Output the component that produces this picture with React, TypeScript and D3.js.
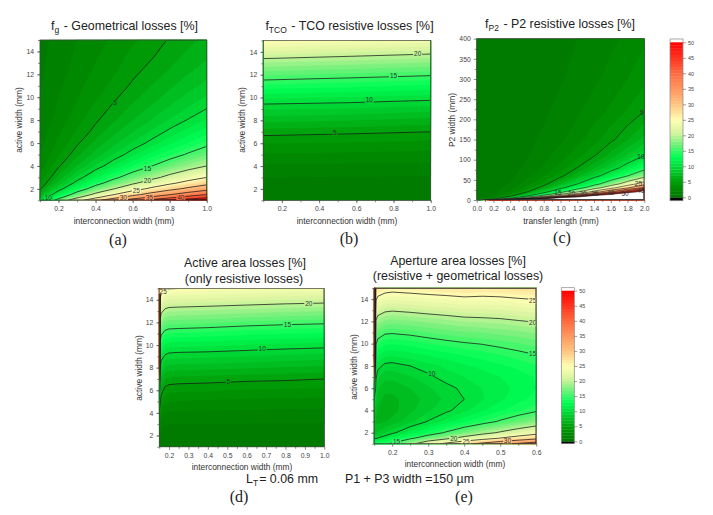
import React, { useRef, useEffect } from "react";
import * as d3 from "d3";

// colour bar stops
const colorLevels = [0, 3, 5, 10, 13, 17, 21, 25, 30, 40, 50];
const colorValues = ["#007800", "#008c00", "#009f08", "#00dc38", "#00ff55", "#70f078", "#d8f4a0", "#ffffb4", "#ffc480", "#ff6a40", "#ff0000"];
const barTicks = [0, 5, 10, 15, 20, 25, 30, 35, 40, 45, 50];

// (a) geometrical losses on a non-uniform grid
const aX = [0.1, 0.2, 0.3, 0.4, 0.5, 0.6, 0.7, 0.8, 0.9, 1.0];
const aY = [1, 1.25, 1.5, 2, 2.5, 3, 4, 5, 6, 7, 8, 9, 10, 11, 12.5, 13.5, 15];
const aZ = [
  [9.1, 16.7, 23.1, 28.6, 33.3, 37.5, 41.2, 44.4, 47.4, 50],
  [7.4, 13.8, 19.4, 24.2, 28.6, 32.4, 35.9, 39, 41.9, 44.4],
  [6.3, 11.8, 16.7, 21.1, 25, 28.6, 31.8, 34.8, 37.5, 40],
  [4.8, 9.1, 13, 16.7, 20, 23.1, 25.9, 28.6, 31, 33.3],
  [3.8, 7.4, 10.7, 13.8, 16.7, 19.4, 21.9, 24.2, 26.5, 28.6],
  [3.2, 6.3, 9.1, 11.8, 14.3, 16.7, 18.9, 21.1, 23.1, 25],
  [2.4, 4.8, 7, 9.1, 11.1, 13, 14.9, 16.7, 18.4, 20],
  [2, 3.8, 5.7, 7.4, 9.1, 10.7, 12.3, 13.8, 15.3, 16.7],
  [1.6, 3.2, 4.8, 6.3, 7.7, 9.1, 10.4, 11.8, 13, 14.3],
  [1.4, 2.8, 4.1, 5.4, 6.7, 7.9, 9.1, 10.3, 11.4, 12.5],
  [1.2, 2.4, 3.6, 4.8, 5.9, 7, 8, 9.1, 10.1, 11.1],
  [1.1, 2.2, 3.2, 4.3, 5.3, 6.3, 7.2, 8.2, 9.1, 10],
  [1, 2, 2.9, 3.8, 4.8, 5.7, 6.5, 7.4, 8.3, 9.1],
  [0.9, 1.8, 2.7, 3.5, 4.3, 5.2, 6, 6.8, 7.6, 8.3],
  [0.8, 1.6, 2.3, 3.1, 3.8, 4.6, 5.3, 6, 6.7, 7.4],
  [0.7, 1.5, 2.2, 2.9, 3.6, 4.3, 4.9, 5.6, 6.3, 6.9],
  [0.7, 1.3, 2, 2.6, 3.2, 3.8, 4.5, 5.1, 5.7, 6.3],
];
const aLabels = [[5, 0.505, 9.53], [10, 0.145, 1.24], [15, 0.68, 3.8], [20, 0.68, 2.7], [25, 0.62, 1.83], [30, 0.55, 1.24], [35, 0.69, 1.24], [40, 0.86, 1.24]];

// (b) TCO resistive losses
const bX = [0.1, 0.55, 1.0];
const bY = [1, 2, 3, 4, 5, 6, 7, 8, 9, 10, 11, 12, 13, 14, 15];
const bZ = [
  [0.1, 0.1, 0.1],
  [0.4, 0.4, 0.4],
  [1, 0.95, 0.9],
  [1.8, 1.75, 1.7],
  [2.9, 2.75, 2.6],
  [4, 3.9, 3.7],
  [5.5, 5.25, 5],
  [7.3, 7, 6.6],
  [9.1, 8.9, 8.4],
  [11.2, 10.9, 10.5],
  [13.6, 13.2, 12.7],
  [16.2, 15.7, 15.2],
  [18.8, 18.3, 17.8],
  [21.7, 21.1, 20.5],
  [25, 24.2, 23.5],
];
const bLabels = [[5, 0.485, 6.9], [10, 0.67, 9.77], [15, 0.8, 11.9], [20, 0.93, 13.8]];

// (c) P2 resistive losses
const cX = [0, 0.2, 0.4, 0.6, 0.8, 1, 1.2, 1.4, 1.6, 1.8, 2];
const cY = [0, 2, 5, 10, 15, 20, 30, 40, 60, 80, 110, 150, 220, 300, 400];
const cZ = [
  [0, 60, 60, 60, 60, 60, 60, 60, 60, 60, 60],
  [0, 5.5, 22, 49.5, 60, 60, 60, 60, 60, 60, 60],
  [0, 2.2, 8.8, 19.8, 35.2, 55, 60, 60, 60, 60, 60],
  [0, 1.1, 4.4, 9.9, 17.6, 27.5, 39.6, 53.9, 60, 60, 60],
  [0, 0.7, 2.9, 6.6, 11.7, 18.3, 26.4, 35.9, 46.9, 59.4, 60],
  [0, 0.6, 2.2, 5, 8.8, 13.8, 19.8, 27, 35.2, 44.6, 55],
  [0, 0.4, 1.5, 3.3, 5.9, 9.2, 13.2, 18, 23.5, 29.7, 36.7],
  [0, 0.3, 1.1, 2.5, 4.4, 6.9, 9.9, 13.5, 17.6, 22.3, 27.5],
  [0, 0.2, 0.7, 1.7, 2.9, 4.6, 6.6, 9, 11.7, 14.9, 18.3],
  [0, 0.1, 0.6, 1.2, 2.2, 3.4, 5, 6.7, 8.8, 11.1, 13.8],
  [0, 0.1, 0.4, 0.9, 1.6, 2.5, 3.6, 4.9, 6.4, 8.1, 10],
  [0, 0.1, 0.3, 0.7, 1.2, 1.8, 2.6, 3.6, 4.7, 5.9, 7.3],
  [0, 0.05, 0.2, 0.5, 0.8, 1.3, 1.8, 2.5, 3.2, 4.1, 5],
  [0, 0, 0.1, 0.3, 0.6, 0.9, 1.3, 1.8, 2.3, 3, 3.7],
  [0, 0, 0.1, 0.2, 0.4, 0.7, 1, 1.3, 1.8, 2.2, 2.8],
];
const cLabels = [[5, 1.97, 217], [10, 1.96, 107], [15, 0.97, 17], [20, 1.13, 16], [30, 1.27, 15], [35, 1.41, 15.5], [40, 1.6, 17], [50, 1.77, 16], [25, 1.93, 40], [45, 1.96, 24]];

// (d) active area losses
const dX = [0.15, 0.155, 0.16, 0.18, 0.2, 0.25, 0.4, 0.6, 0.8, 1.0];
const dY = [1, 2, 3, 4, 5, 6, 7, 8, 9, 10, 11, 12, 13, 14, 15];
const dZ = [
  [0.5, 0.3, 0.2, 0.1, 0.1, 0.1, 0.1, 0.1, 0.1, 0.1],
  [1, 0.7, 0.5, 0.4, 0.4, 0.4, 0.4, 0.4, 0.4, 0.4],
  [2, 1.5, 1.2, 1.05, 1, 1, 1, 0.95, 0.9, 0.9],
  [4, 3.2, 2.5, 2, 1.85, 1.8, 1.75, 1.7, 1.65, 1.6],
  [9, 5.2, 4.3, 3.2, 3, 2.9, 2.8, 2.7, 2.65, 2.6],
  [18, 6.7, 5.5, 4.5, 4.3, 4.2, 4.1, 3.9, 3.8, 3.7],
  [30, 8.1, 7, 6, 5.7, 5.6, 5.5, 5.3, 5.2, 5],
  [45, 9.8, 8.8, 7.8, 7.5, 7.4, 7.3, 7.1, 6.9, 6.7],
  [55, 11.9, 10.7, 9.7, 9.4, 9.3, 9.2, 9, 8.7, 8.5],
  [55, 14, 12.8, 11.7, 11.4, 11.3, 11.2, 10.9, 10.7, 10.5],
  [55, 16.5, 15.3, 14.2, 13.9, 13.8, 13.6, 13.2, 13, 12.8],
  [55, 19.1, 17.9, 16.8, 16.5, 16.4, 16.2, 15.8, 15.5, 15.3],
  [55, 21.7, 20.5, 19.4, 19.1, 19, 18.8, 18.5, 18.2, 18],
  [55, 24.5, 23.3, 22.2, 21.9, 21.8, 21.6, 21.3, 21, 20.8],
  [55, 27.7, 26.5, 25.4, 25.1, 25, 24.6, 24.3, 24, 23.8],
];
const dLabels = [[25, 0.17, 14.73], [20, 0.92, 13.68], [15, 0.81, 11.83], [10, 0.68, 9.66], [5, 0.505, 6.8]];

// (e) aperture area losses
const eX = [0.15, 0.155, 0.16, 0.18, 0.2, 0.25, 0.3, 0.35, 0.4, 0.45, 0.5, 0.55, 0.6];
const eY = [1, 1.5, 2, 3, 4, 5, 6, 7, 8, 9, 10, 11, 12, 13, 14, 15];
const eZ = [
  [13.5, 13.4, 14.1, 14.5, 15.5, 19, 23.2, 26, 28.7, 31.1, 33.4, 35.6, 37.6],
  [10, 9.8, 10.1, 11, 12.1, 14.5, 16.9, 19.1, 21.3, 23.3, 25.2, 27, 28.8],
  [8.2, 7.9, 8.1, 8.8, 9.6, 11.5, 13.4, 15.3, 17.1, 18.8, 20.4, 22, 23.5],
  [7.2, 6.8, 6.7, 6.9, 7.3, 8.7, 10.1, 11.4, 12.8, 14, 15.3, 16.5, 17.7],
  [8, 7.4, 6.7, 6.4, 6.6, 7.7, 8.8, 9.7, 10.7, 11.8, 12.8, 13.8, 14.7],
  [10, 8.4, 7.4, 6.7, 6.7, 7.5, 8.4, 9.2, 10, 10.9, 11.8, 12.6, 13.4],
  [14, 9.1, 8.1, 7.3, 7.3, 8, 8.8, 9.6, 10.3, 11, 11.6, 12.3, 13],
  [25, 10.2, 9.1, 8.3, 8.3, 8.9, 9.7, 10.5, 11, 11.5, 12, 12.5, 13.1],
  [40, 11.5, 10.5, 9.6, 9.5, 10, 10.6, 11.2, 11.8, 12.3, 12.8, 13.3, 13.9],
  [52, 13.2, 12.1, 11.3, 11.2, 11.6, 12.1, 12.6, 13.1, 13.5, 14, 14.5, 15],
  [55, 15.2, 14.1, 13.2, 13.1, 13.4, 13.9, 14.4, 14.8, 15.1, 15.5, 15.9, 16.4],
  [55, 17.3, 16.2, 15.3, 15.2, 15.5, 16, 16.4, 16.8, 17, 17.4, 17.7, 18.1],
  [55, 19.7, 18.6, 17.7, 17.5, 17.8, 18.2, 18.6, 19, 19.2, 19.4, 19.8, 20.2],
  [55, 22.4, 21.3, 20.4, 20.2, 20.5, 20.9, 21.2, 21.6, 21.6, 21.8, 22.2, 22.5],
  [55, 25.4, 24.2, 23.3, 23.1, 23.4, 23.7, 24, 24.4, 24.3, 24.4, 24.8, 25.1],
  [55, 28.5, 27.4, 26.4, 26.1, 26.4, 26.8, 27.1, 27.4, 27, 27.3, 27.6, 27.9],
];
const eLabels = [[10, 0.31, 7.31], [15, 0.59, 9.07], [20, 0.59, 11.85], [25, 0.59, 13.85], [15, 0.212, 1.17], [20, 0.371, 1.46], [25, 0.405, 1.22], [30, 0.52, 1.25]];

const color = d3.scaleLinear<string>().domain(colorLevels).range(colorValues);
const bandStep = 1;
const bandLevels = d3.range(0, 50, bandStep);
const lineLevels = [5, 10, 15, 20, 25, 30, 35, 40, 45, 50];

const panels = [
  { id: "a", xs: aX, ys: aY, zs: aZ, labels: aLabels, box: [40, 206.7, 40, 200.3], xDom: [0.1, 1], yDom: [1, 15],
    xTicks: d3.range(2, 11, 2).map((d) => d / 10), xMinor: d3.range(1, 11).map((d) => d / 10),
    yTicks: d3.range(2, 15, 2), yMinor: d3.range(1, 16), xFmt: ".1f",
    xTitle: "interconnection width (mm)", yTitle: "active width (mm)", xTitlePos: [124, 224], yTitlePos: [22, 120] },
  { id: "b", xs: bX, ys: bY, zs: bZ, labels: bLabels, box: [263.3, 430.7, 40.5, 200.3], xDom: [0.1, 1], yDom: [1, 15],
    xTicks: d3.range(2, 11, 2).map((d) => d / 10), xMinor: d3.range(1, 11).map((d) => d / 10),
    yTicks: d3.range(2, 15, 2), yMinor: d3.range(1, 16), xFmt: ".1f",
    xTitle: "interconnection width (mm)", yTitle: "active width (mm)", xTitlePos: [347, 224], yTitlePos: [245, 120] },
  { id: "c", xs: cX, ys: cY, zs: cZ, labels: cLabels, box: [476.7, 644.3, 38.7, 200], xDom: [0, 2], yDom: [0, 400],
    xTicks: d3.range(0, 21, 2).map((d) => d / 10), xMinor: d3.range(1, 20, 2).map((d) => d / 10),
    yTicks: d3.range(0, 401, 50), yMinor: d3.range(25, 400, 50), xFmt: ".1f",
    xTitle: "transfer length (mm)", yTitle: "P2 width (mm)", xTitlePos: [561, 224], yTitlePos: [455, 120] },
  { id: "d", xs: dX, ys: dY, zs: dZ, labels: dLabels, box: [159.3, 324.3, 288.5, 446.8], xDom: [0.15, 1], yDom: [1, 15],
    xTicks: d3.range(2, 11).map((d) => d / 10), xMinor: d3.range(3, 20, 2).map((d) => d / 20),
    yTicks: d3.range(2, 15, 2), yMinor: d3.range(1, 16), xFmt: ".1f",
    xTitle: "interconnection width (mm)", yTitle: "active width (mm)", xTitlePos: [242, 470], yTitlePos: [142, 368] },
  { id: "e", xs: eX, ys: eY, zs: eZ, labels: eLabels, box: [374.2, 536.3, 288, 443.8], xDom: [0.15, 0.6], yDom: [1, 15],
    xTicks: d3.range(2, 7).map((d) => d / 10), xMinor: d3.range(3, 12, 2).map((d) => d / 20),
    yTicks: d3.range(2, 15, 2), yMinor: d3.range(1, 16), xFmt: ".1f",
    xTitle: "interconnection width (mm)", yTitle: "active width (mm)", xTitlePos: [455, 467], yTitlePos: [357, 367] },
];

const bars = [
  { box: [670, 683, 39, 200.7], scale: [197.3, 42.3] },
  { box: [561.3, 574.3, 287.7, 443.7], scale: [441.3, 290.7] },
];

const sans = "'Liberation Sans', Arial, sans-serif";
const serif = "'Liberation Serif', 'Times New Roman', serif";
const inkAxis = "#444";

type G = d3.Selection<SVGGElement, unknown, null, undefined>;

const drawPanel = (root: G, p: (typeof panels)[number]) => {
  const [x0, x1, y0, y1] = p.box;
  const x = d3.scaleLinear().domain(p.xDom).range([x0, x1]);
  const y = d3.scaleLinear().domain(p.yDom).range([y1, y0]);
  const nx = p.xs.length;
  const ny = p.ys.length;
  const ix = d3.scaleLinear().domain(d3.range(nx)).range(p.xs).clamp(true);
  const iy = d3.scaleLinear().domain(d3.range(ny)).range(p.ys).clamp(true);

  // grid cell centres sit at i + .5 in d3.contours coordinates
  const project = d3.geoTransform({
    point(a: number, b: number) {
      (this as any).stream.point(x(ix(a - 0.5)), y(iy(b - 0.5)));
    },
  });
  const path = d3.geoPath(project);
  const values = p.zs.flat();
  const contours = d3.contours().size([nx, ny]);

  const g = root.append("g");
  const clipId = `clip-${p.id}`;
  g.append("clipPath")
    .attr("id", clipId)
    .append("rect")
    .attr("x", x0 + 0.5)
    .attr("y", y0 + 0.5)
    .attr("width", x1 - x0 - 1)
    .attr("height", y1 - y0 - 1);

  g.append("rect")
    .attr("x", x0)
    .attr("y", y0)
    .attr("width", x1 - x0)
    .attr("height", y1 - y0)
    .attr("fill", color(bandStep / 2));

  g.append("g")
    .selectAll("path")
    .data(contours.thresholds([...bandLevels, 50])(values))
    .join("path")
    .attr("d", (d) => path(d as any))
    .attr("fill", (d) => (d.value >= 50 ? "#fff" : color(d.value + bandStep / 2)))
    .attr("stroke", (d) => (d.value >= 50 ? "none" : color(d.value + bandStep / 2)))
    .attr("stroke-width", 0.25);

  g.append("g")
    .attr("clip-path", `url(#${clipId})`)
    .selectAll("path")
    .data(contours.thresholds(lineLevels)(values))
    .join("path")
    .attr("d", (d) => path(d as any))
    .attr("fill", "none")
    .attr("stroke", "#1a1a1a")
    .attr("stroke-width", p.id === "c" ? 0.6 : 0.75);

  // contour labels break the line
  const lab = g.append("g");
  p.labels.forEach(([level, lx, ly]) => {
    const w = String(level).length * 4 + 1;
    if (p.id !== "c") {
      lab.append("rect")
        .attr("x", x(lx) - w / 2)
        .attr("y", y(ly) - 2.5)
        .attr("width", w)
        .attr("height", 5)
        .attr("fill", color(level));
    }
    lab.append("text")
      .attr("x", x(lx))
      .attr("y", y(ly) + 2.3)
      .attr("text-anchor", "middle")
      .attr("font-family", sans)
      .attr("font-size", 6.5)
      .attr("fill", "#333")
      .text(level);
  });

  // frame and axes
  g.append("rect")
    .attr("x", x0)
    .attr("y", y0)
    .attr("width", x1 - x0)
    .attr("height", y1 - y0)
    .attr("fill", "none")
    .attr("stroke", inkAxis)
    .attr("stroke-width", 0.7);

  const xAxis = g.append("g").attr("transform", `translate(0,${y1})`);
  xAxis.call(d3.axisBottom(x).tickValues(p.xTicks).tickSize(3).tickPadding(3).tickFormat(d3.format(p.xFmt) as any));
  const xMinor = g.append("g").attr("transform", `translate(0,${y1})`);
  xMinor.call(d3.axisBottom(x).tickValues(p.xMinor).tickSize(2).tickFormat(() => ""));
  const yAxis = g.append("g").attr("transform", `translate(${x0},0)`);
  yAxis.call(d3.axisLeft(y).tickValues(p.yTicks).tickSize(3).tickPadding(3));
  const yMinor = g.append("g").attr("transform", `translate(${x0},0)`);
  yMinor.call(d3.axisLeft(y).tickValues(p.yMinor).tickSize(2).tickFormat(() => ""));
  [xAxis, xMinor, yAxis, yMinor].forEach((a) => {
    a.select(".domain").remove();
    a.selectAll("line").attr("stroke", inkAxis).attr("stroke-width", 0.6);
    a.selectAll("text").attr("font-family", sans).attr("font-size", 6.8).attr("fill", "#444");
  });

  g.append("text")
    .attr("x", p.xTitlePos[0])
    .attr("y", p.xTitlePos[1])
    .attr("text-anchor", "middle")
    .attr("font-family", sans)
    .attr("font-size", 8.4)
    .attr("fill", "#333")
    .text(p.xTitle);
  g.append("text")
    .attr("transform", `translate(${p.yTitlePos[0]},${p.yTitlePos[1]}) rotate(-90)`)
    .attr("text-anchor", "middle")
    .attr("font-family", sans)
    .attr("font-size", 8.4)
    .attr("fill", "#333")
    .text(p.yTitle);
};

const drawBar = (root: G, b: (typeof bars)[number]) => {
  const [x0, x1, y0, y1] = b.box;
  const s = d3.scaleLinear().domain([0, 50]).range(b.scale);
  const g = root.append("g");
  g.append("rect").attr("x", x0).attr("y", y0).attr("width", x1 - x0).attr("height", y1 - y0).attr("fill", "#fff");
  g.append("rect").attr("x", x0).attr("y", s(0)).attr("width", x1 - x0).attr("height", y1 - s(0)).attr("fill", "#000");
  g.append("g")
    .selectAll("rect")
    .data(bandLevels)
    .join("rect")
    .attr("x", x0)
    .attr("y", (d) => s(d + bandStep))
    .attr("width", x1 - x0)
    .attr("height", (d) => s(d) - s(d + bandStep) + 0.3)
    .attr("fill", (d) => color(d + bandStep / 2));
  g.append("rect")
    .attr("x", x0)
    .attr("y", y0)
    .attr("width", x1 - x0)
    .attr("height", y1 - y0)
    .attr("fill", "none")
    .attr("stroke", "#888")
    .attr("stroke-width", 0.7);
  const axis = g.append("g").attr("transform", `translate(${x1},0)`);
  axis.call(d3.axisRight(s).tickValues(barTicks).tickSize(3).tickPadding(2));
  axis.select(".domain").remove();
  axis.selectAll("line").attr("stroke", inkAxis).attr("stroke-width", 0.5);
  axis.selectAll("text").attr("font-family", sans).attr("font-size", 5.4).attr("fill", "#444");
};

const Title = ({ x, y, anchor = "middle", size = 12.4, children }: any) => (
  <text x={x} y={y} textAnchor={anchor} fontFamily={sans} fontSize={size} fill="#222">
    {children}
  </text>
);
const Sub = ({ t, size = 8.5 }: { t: string; size?: number }) => (
  <>
    <tspan fontSize={size} dy={3}>{t}</tspan>
    <tspan dy={-3}>{"\u200a"}</tspan>
  </>
);
const PanelTag = ({ x, y, t }: { x: number; y: number; t: string }) => (
  <text x={x} y={y} textAnchor="middle" fontFamily={serif} fontSize={16} fill="#222">{t}</text>
);

export default function App() {
  const ref = useRef<SVGGElement>(null);

  useEffect(() => {
    const root = d3.select(ref.current as SVGGElement);
    root.selectAll("*").remove();
    panels.forEach((p) => drawPanel(root as any, p));
    bars.forEach((b) => drawBar(root as any, b));
  }, []);

  return (
    <svg width={713} height={515} style={{ position: "absolute", left: 0, top: 0, background: "#fff" }}>
      <g ref={ref} />
      <Title x={124.5} y={30}>f<Sub t="g" /> - Geometrical losses [%]</Title>
      <Title x={349.5} y={30}>f<Sub t="TCO" /> - TCO resistive losses [%]</Title>
      <Title x={560} y={28}>f<Sub t="P2" /> - P2 resistive losses [%]</Title>
      <Title x={245} y={267}>Active area losses [%]</Title>
      <Title x={244} y={283}>(only resistive losses)</Title>
      <Title x={458} y={265}>Aperture area losses [%]</Title>
      <Title x={458} y={280}>(resistive + geometrical losses)</Title>
      <Title x={246} y={483} anchor="start">L<Sub t="T" size={8.5} />= 0.06 mm</Title>
      <Title x={345} y={483} anchor="start">P1 + P3 width =150 µm</Title>
      <PanelTag x={118} y={245} t="(a)" />
      <PanelTag x={349} y={244} t="(b)" />
      <PanelTag x={562} y={243} t="(c)" />
      <PanelTag x={239} y={502} t="(d)" />
      <PanelTag x={464} y={502} t="(e)" />
    </svg>
  );
}
